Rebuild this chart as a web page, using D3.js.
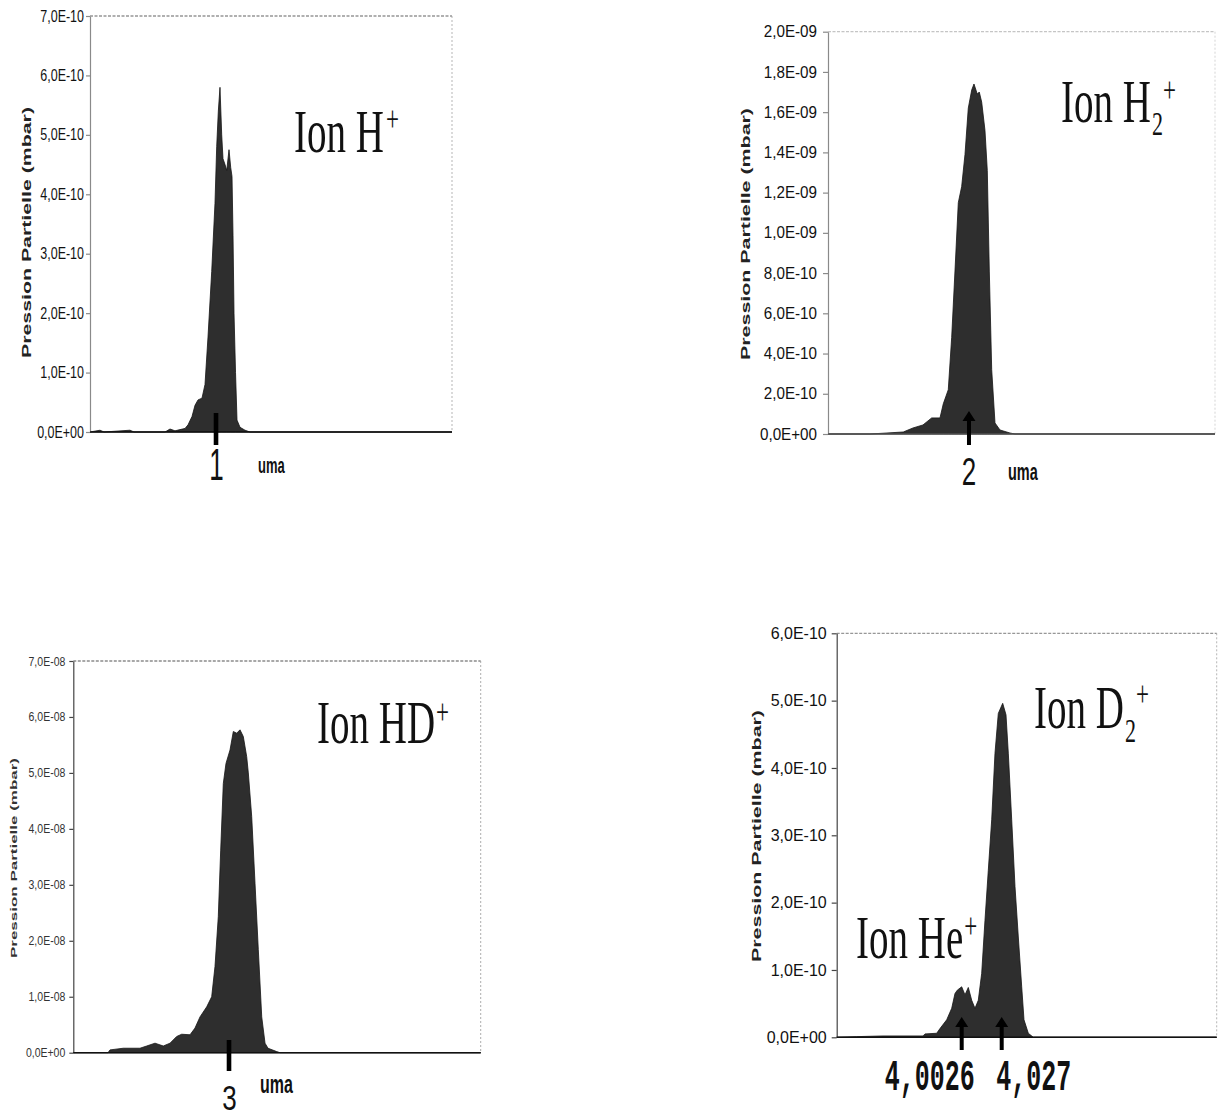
<!DOCTYPE html>
<html><head><meta charset="utf-8">
<script src="https://cdn.jsdelivr.net/npm/d3@7"></script>
<style>body{margin:0;background:#fff}svg{display:block}</style>
</head><body>
<svg id="c" width="1223" height="1119"></svg>
<script>
// ---------- DATA ----------
// Panel 1 : Ion H+  (pressure in units of 1e-10 mbar)
const p1Mass  = [0.6519,0.6796,0.6906,0.7624,0.7735,0.8591,0.8729,0.8867,0.9006,0.9144,0.9227,0.9337,0.942,0.9503,0.9613,0.9696,0.9779,0.9881,0.9972,1.0019,1.0064,1.011,1.0157,1.0193,1.0249,1.0296,1.0359,1.0406,1.0442,1.047,1.0497,1.0539,1.058,1.0663,1.0801,1.0939,1.6519];
const p1Press = [0,0.03,0,0.03,0,0,0.05,0.02,0.04,0.06,0.12,0.26,0.45,0.54,0.57,0.8,1.6,2.7,3.85,4.8,5.4,5.8,5.0,4.6,4.5,4.4,4.75,4.45,4.3,3.3,2.0,1.0,0.2,0.08,0.03,0,0];
const p1Unit = 1e-10;
const p1Ticks = [0,1e-10,2e-10,3e-10,4e-10,5e-10,6e-10,7e-10];
const p1TickLabels = ["0,0E+00","1,0E-10","2,0E-10","3,0E-10","4,0E-10","5,0E-10","6,0E-10","7,0E-10"];
const p1XDomain = [0.6519, 1.6519];
const p1Marks = [1];
const p1MarkLabels = ["1"];

// Panel 2 : Ion H2+  (units of 1e-9 mbar)
const p2Mass  = [1.6357,1.7442,1.7881,1.8302,1.8553,1.8811,1.9036,1.9251,1.9336,1.9465,1.9553,1.9638,1.9724,1.9811,1.9897,1.9982,2.007,2.0129,2.0214,2.0266,2.0328,2.0413,2.0473,2.0525,2.0587,2.0672,2.0801,2.1059,2.1189,2.6357];
const p2Press = [0,0,0.005,0.01,0.03,0.045,0.08,0.08,0.15,0.22,0.48,0.81,1.15,1.23,1.39,1.62,1.71,1.74,1.69,1.70,1.65,1.51,1.31,0.81,0.32,0.055,0.02,0.005,0,0];
const p2Unit = 1e-9;
const p2Ticks = [0,0.2e-9,0.4e-9,0.6e-9,0.8e-9,1.0e-9,1.2e-9,1.4e-9,1.6e-9,1.8e-9,2.0e-9];
const p2TickLabels = ["0,0E+00","2,0E-10","4,0E-10","6,0E-10","8,0E-10","1,0E-09","1,2E-09","1,4E-09","1,6E-09","1,8E-09","2,0E-09"];
const p2XDomain = [1.6357, 2.6357];
const p2Marks = [2];
const p2MarkLabels = ["2"];

// Panel 3 : Ion HD+  (units of 1e-8 mbar)
const p3Mass  = [2.6178,2.703,2.7079,2.7405,2.7815,2.798,2.8184,2.8387,2.8552,2.8716,2.8839,2.9043,2.9165,2.9288,2.9453,2.9575,2.9656,2.9737,2.9796,2.986,2.9926,3.0025,3.0106,3.0189,3.027,3.0351,3.0434,3.0474,3.0557,3.0638,3.0719,3.0803,3.0884,3.0957,3.1171,3.1252,3.6178];
const p3Press = [0,0,0.05,0.08,0.08,0.12,0.17,0.12,0.17,0.29,0.33,0.32,0.44,0.64,0.82,1.0,1.54,2.43,3.62,4.81,5.17,5.41,5.74,5.71,5.77,5.65,5.29,5.0,4.22,3.03,1.84,0.64,0.17,0.08,0.02,0,0];
const p3Unit = 1e-8;
const p3Ticks = [0,1e-8,2e-8,3e-8,4e-8,5e-8,6e-8,7e-8];
const p3TickLabels = ["0,0E+00","1,0E-08","2,0E-08","3,0E-08","4,0E-08","5,0E-08","6,0E-08","7,0E-08"];
const p3XDomain = [2.6178, 3.6178];
const p3Marks = [3];
const p3MarkLabels = ["3"];

// Panel 4 : Ion He+ / Ion D2+  (units of 1e-10 mbar)
const p4Mass  = [3.92635,3.93855,3.95459,3.97899,3.98021,3.98735,3.98936,3.99345,3.9965,3.99851,3.99992,4.0026,4.00461,4.00663,4.0087,4.01071,4.01273,4.0148,4.01681,4.01883,4.0209,4.02291,4.02493,4.02761,4.02962,4.03103,4.0331,4.03511,4.03713,4.0392,4.0406,4.04323,4.04628,4.15815];
const p4Press = [0,0.01,0.02,0.02,0.05,0.06,0.13,0.26,0.43,0.65,0.70,0.75,0.63,0.74,0.55,0.43,0.55,0.95,1.74,2.48,3.23,4.22,4.81,4.96,4.79,4.22,3.23,2.24,1.49,0.75,0.26,0.06,0,0];
const p4Unit = 1e-10;
const p4Ticks = [0,1e-10,2e-10,3e-10,4e-10,5e-10,6e-10];
const p4TickLabels = ["0,0E+00","1,0E-10","2,0E-10","3,0E-10","4,0E-10","5,0E-10","6,0E-10"];
const p4XDomain = [3.92635, 4.15815];
const p4Marks = [4.0026, 4.027];
const p4MarkLabels = ["4,0026", "4,027"];

const yTitle = "Pression Partielle (mbar)";
const unitLabel = "uma";

// ---------- LAYOUT ----------
const panels = [
  {mass:p1Mass, press:p1Press, unit:p1Unit, ticks:p1Ticks, tickLabels:p1TickLabels, xDomain:p1XDomain, marks:p1Marks, markLabels:p1MarkLabels,
   x0:90, x1:452, yTop:16, yBot:432, tickFont:16, tickSX:0.78, tickSize:4, tickPad:2, tickColor:"#111", axisColor:"#8a8a8a",
   borderOp:0.9, bottomColor:"#111",
   title:{x:26.5, y:232.5, len:251, size:13, color:"#222"},
   mark:{top:413, bot:445, head:false},
   markText:{font:"sans", size:26, sy:1.7, dx:[0.5], base:480},
   uma:{x:258, y:473, size:13, sy:1.7},
   ions:[{x:294, y:152, parts:[{t:"Ion H"},{t:"+", size:23, dy:-13.5, dx:2}]}]},
  {mass:p2Mass, press:p2Press, unit:p2Unit, ticks:p2Ticks, tickLabels:p2TickLabels, xDomain:p2XDomain, marks:p2Marks, markLabels:p2MarkLabels,
   x0:828, x1:1215, yTop:31.7, yBot:434, tickFont:16, tickSX:0.95, tickSize:5, tickPad:6, tickColor:"#111", axisColor:"#8a8a8a",
   borderOp:0.5, bottomColor:"#555",
   title:{x:745, y:234, len:252, size:13, color:"#222"},
   mark:{top:411, bot:445, head:true},
   markText:{font:"sans", size:26, sy:1.5, dx:[0], base:485},
   uma:{x:1008, y:480, size:14.5, sy:1.7},
   ions:[{x:1061, y:122, parts:[{t:"Ion H"},{t:"2", size:22, dy:8.4, dx:1},{t:"+", size:23, dy:-21.5, dx:0}]}]},
  {mass:p3Mass, press:p3Press, unit:p3Unit, ticks:p3Ticks, tickLabels:p3TickLabels, xDomain:p3XDomain, marks:p3Marks, markLabels:p3MarkLabels,
   x0:73.3, x1:480.7, yTop:661, yBot:1052.7, tickFont:12.5, tickSX:0.84, tickSize:4, tickPad:4, tickColor:"#333", axisColor:"#444",
   borderOp:1, bottomColor:"#111",
   title:{x:13.7, y:858, len:200, size:9.5, color:"#333"},
   mark:{top:1040, bot:1071, head:false},
   markText:{font:"sans", size:26, sy:1.38, dx:[0.5], base:1110},
   uma:{x:260, y:1093, size:16, sy:1.57},
   ions:[{x:317, y:743, parts:[{t:"Ion HD"},{t:"+", size:23, dy:-12.5, dx:1}]}]},
  {mass:p4Mass, press:p4Press, unit:p4Unit, ticks:p4Ticks, tickLabels:p4TickLabels, xDomain:p4XDomain, marks:p4Marks, markLabels:p4MarkLabels,
   x0:836.7, x1:1216.7, yTop:633.3, yBot:1037.3, tickFont:16, tickSX:1.0, tickSize:5, tickPad:5, tickColor:"#111", axisColor:"#444",
   borderOp:0.9, bottomColor:"#111",
   title:{x:756, y:836, len:252, size:13, color:"#222"},
   mark:{top:1017, bot:1050, head:true},
   markText:{font:"mono", size:25, sy:1.8, dx:[-32, 32], base:1090},
   uma:null,
   ions:[{x:1034, y:728, parts:[{t:"Ion D"},{t:"2", size:22, dy:8.8, dx:1},{t:"+", size:23, dy:-23, dx:0}]},
         {x:856, y:958, parts:[{t:"Ion He"},{t:"+", size:23, dy:-13, dx:1}]}]}
];

const svg = d3.select("#c");
svg.append("rect").attr("width",1223).attr("height",1119).attr("fill","#fff");

const SANS = '"Liberation Sans", Arial, sans-serif';
const SERIF = '"Liberation Serif", "Times New Roman", serif';
const MONO = '"Liberation Mono", "Courier New", monospace';

function stretched(parent, x, y, sx, sy) {
  return parent.append("g").attr("transform", `translate(${x},${y}) scale(${sx},${sy})`).append("text");
}

panels.forEach(P => {
  const g = svg.append("g");
  const x = d3.scaleLinear().domain(P.xDomain).range([P.x0, P.x1]);
  const y = d3.scaleLinear().domain([0, P.ticks[P.ticks.length-1]]).range([P.yBot, P.yTop]);

  // frame: top and right borders (dotted grey)
  g.append("line").attr("x1",P.x0).attr("x2",P.x1).attr("y1",P.yTop).attr("y2",P.yTop)
    .attr("stroke","#8c8c8c").attr("stroke-width",1.3).attr("stroke-dasharray","3,1.5").attr("opacity",P.borderOp);
  g.append("line").attr("x1",P.x1).attr("x2",P.x1).attr("y1",P.yTop).attr("y2",P.yBot)
    .attr("stroke","#9a9a9a").attr("stroke-width",1).attr("stroke-dasharray","2,2").attr("opacity",P.borderOp*0.8);

  // area (spectrum)
  const area = d3.area()
    .x((d,i) => x(P.mass[i]))
    .y0(P.yBot)
    .y1((d,i) => y(P.press[i]*P.unit));
  g.append("path").datum(P.press).attr("d", area)
    .attr("fill","#2e2e2e").attr("stroke","#151515").attr("stroke-width",0.8).attr("stroke-linejoin","round");

  // y axis
  const ax = d3.axisLeft(y).tickValues(P.ticks).tickFormat((d,i) => P.tickLabels[i])
    .tickSize(P.tickSize).tickSizeOuter(0).tickPadding(P.tickPad);
  const ag = g.append("g").attr("transform",`translate(${P.x0},0)`).call(ax);
  ag.select(".domain").attr("stroke",P.axisColor).attr("stroke-width",1.2);
  ag.selectAll(".tick line").attr("stroke",P.axisColor).attr("stroke-width",1.2);
  ag.selectAll(".tick text").attr("font-family",SANS).attr("font-size",P.tickFont).attr("fill",P.tickColor)
    .each(function(){
      const w = this.getComputedTextLength();
      d3.select(this).attr("textLength", w*P.tickSX).attr("lengthAdjust","spacingAndGlyphs");
    });

  // bottom axis
  g.append("line").attr("x1",P.x0).attr("x2",P.x1).attr("y1",P.yBot).attr("y2",P.yBot)
    .attr("stroke",P.bottomColor).attr("stroke-width",1.6);

  // y title
  g.append("text").attr("transform",`translate(${P.title.x},${P.title.y}) rotate(-90)`)
    .attr("text-anchor","middle").attr("dy","0.35em")
    .attr("font-family",SANS).attr("font-weight","bold").attr("font-size",P.title.size)
    .attr("fill",P.title.color)
    .attr("textLength",P.title.len).attr("lengthAdjust","spacingAndGlyphs")
    .text(yTitle);

  // marks (arrows / bars) under peaks
  P.marks.forEach((m, i) => {
    const mx = x(m);
    if (P.mark.head) {
      const hh = 10, hw = 6.5;
      g.append("path")
        .attr("d", `M${mx-2},${P.mark.bot} L${mx-2},${P.mark.top+hh} L${mx-hw},${P.mark.top+hh} L${mx},${P.mark.top} L${mx+hw},${P.mark.top+hh} L${mx+2},${P.mark.top+hh} L${mx+2},${P.mark.bot} Z`)
        .attr("fill","#000");
    } else {
      g.append("rect").attr("x",mx-2.3).attr("y",P.mark.top).attr("width",4.6).attr("height",P.mark.bot-P.mark.top).attr("fill","#000");
    }
    const MT = P.markText;
    stretched(g, mx + MT.dx[i], MT.base, 1, MT.sy)
      .attr("text-anchor","middle")
      .attr("font-family", MT.font === "mono" ? MONO : SANS)
      .attr("font-weight", MT.font === "mono" ? "bold" : "normal")
      .attr("font-size", MT.size).attr("fill","#111")
      .text(P.markLabels[i]);
  });

  // unit label
  if (P.uma) {
    stretched(g, P.uma.x, P.uma.y, 1, P.uma.sy)
      .attr("font-family",SANS).attr("font-weight","bold").attr("font-size",P.uma.size).attr("fill","#111")
      .text(unitLabel);
  }

  // ion labels
  P.ions.forEach(L => {
    const t = stretched(g, L.x, L.y, 1, 1.55)
      .attr("font-family",SERIF).attr("font-size",39).attr("fill","#111");
    L.parts.forEach(p => {
      const ts = t.append("tspan").text(p.t);
      if (p.size) ts.attr("font-size", p.size);
      if (p.dy) ts.attr("dy", p.dy);
      if (p.dx) ts.attr("dx", p.dx);
    });
  });
});
</script>
</body></html>
